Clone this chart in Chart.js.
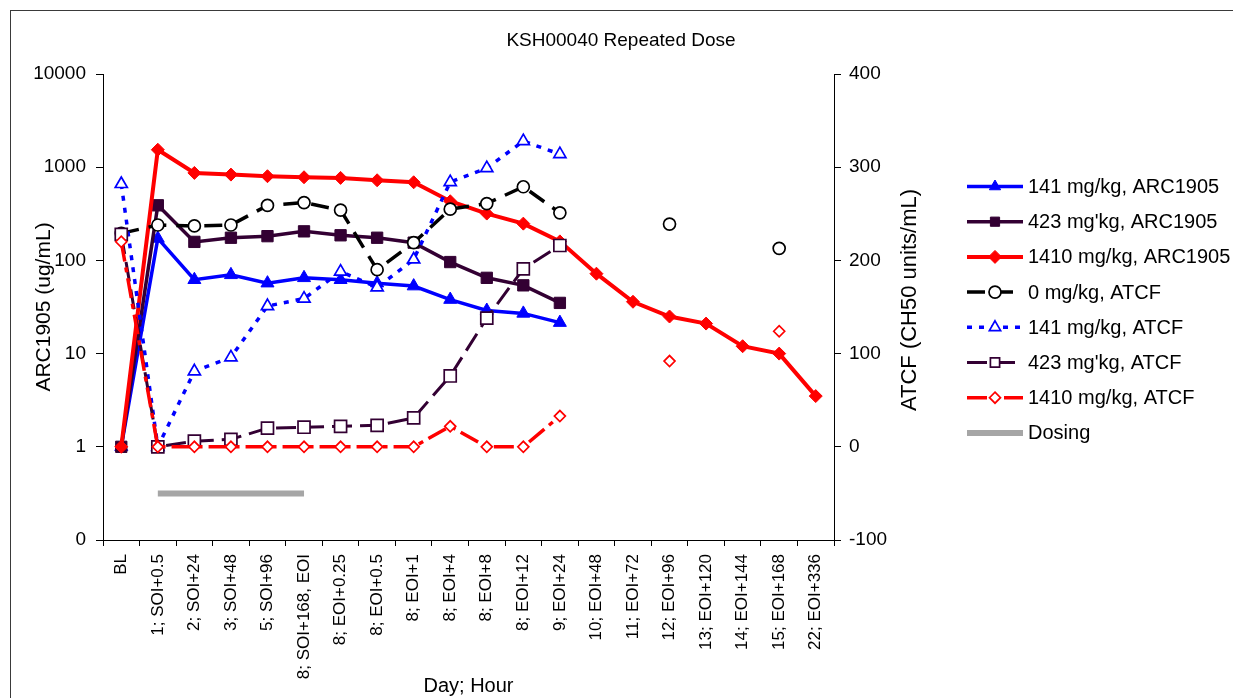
<!DOCTYPE html>
<html><head><meta charset="utf-8">
<script src="https://cdn.jsdelivr.net/npm/chart.js@4.4.1/dist/chart.umd.min.js"></script>
<style>
html,body{margin:0;padding:0;background:#fff;overflow:hidden;}
#wrap{position:relative;width:1233px;height:698px;}
#frame{position:absolute;left:10px;top:10px;width:1300px;height:800px;border-left:1.5px solid #3a3a3a;border-top:1.5px solid #3a3a3a;}
canvas{position:absolute;left:0;top:0;}
</style></head><body>
<div id="wrap"><div id="frame"></div><canvas id="c" width="1233" height="698"></canvas></div>
<script>
const categories = ['BL','1; SOI+0.5','2; SOI+24','3; SOI+48','5; SOI+96','8; SOI+168, EOI','8; EOI+0.25','8; EOI+0.5','8; EOI+1','8; EOI+4','8; EOI+8','8; EOI+12','9; EOI+24','10; EOI+48','11; EOI+72','12; EOI+96','13; EOI+120','14; EOI+144','15; EOI+168','22; EOI+336'];
const arc141  = [1, 172, 62, 70, 57, 65, 62, 57, 53, 38, 29, 27, 21.5, null, null, null, null, null, null, null];
const arc423  = [1, 390, 158, 175, 182, 205, 186, 175, 155, 96, 65, 54, 35, null, null, null, null, null, null, null];
const arc1410 = [1, 1540, 868, 833, 800, 780, 768, 724, 689, 431, 318, 248, 160, 72, 36, 25, 21, 12, 10, 3.5];
const atcf0    = [229, 238, 237, 238, 259, 262, 254, 190, 219, 255, 261, 279, 251, null, null, 239, null, null, 213, null];
const atcf141  = [282, 0, 81, 96, 151, 159, 188, 171, 201, 284, 299, 328, 314, null, null, null, null, null, null, null];
const atcf423  = [228, 0, 6, 8, 20, 21, 22, 23, 31, 76, 138, 191, 216, null, null, null, null, null, null, null];
const atcf1410 = [220, 0, 0, 0, 0, 0, 0, 0, 0, 22, 0, 0, 33, null, null, 92, null, null, 124, null];
const dosing   = [null, -50, -50, -50, -50, -50, null, null, null, null, null, null, null, null, null, null, null, null, null, null];
const leftTicks = [0.1, 1, 10, 100, 1000, 10000];

const FAM = "'Liberation Sans', Arial, sans-serif";
const PURPLE = '#330033';

function ds(label, data, axis, color, style, r, filled, width, dash, idx) {
  return {
    label, data, yAxisID: axis, borderColor: color, borderWidth: width, borderDash: dash,
    tension: 0, spanGaps: false, fill: false,
    pointStyle: style || false, pointRadius: style ? r : 0,
    pointBackgroundColor: filled ? color : '#ffffff', pointBorderColor: color,
    pointBorderWidth: filled ? 1 : 1.7, order: 20 - idx,
    _marker: {style, r, filled}
  };
}

const datasets = [
  ds('141 mg/kg, ARC1905', arc141, 'y', '#0000FF', 'triangle', 7.5, true, 3.5, [], 0),
  ds("423 mg'kg, ARC1905", arc423, 'y', PURPLE, 'rect', 8, true, 3.5, [], 1),
  ds('1410 mg/kg, ARC1905', arc1410, 'y', '#FF0000', 'rectRot', 6.5, true, 4, [], 2),
  ds('0 mg/kg, ATCF', atcf0, 'y2', '#000000', 'circle', 6, false, 3.5, [18, 10], 3),
  ds('141 mg/kg, ATCF', atcf141, 'y2', '#0000FF', 'triangle', 7, false, 3.5, [5, 7], 4),
  ds("423 mg'kg, ATCF", atcf423, 'y2', PURPLE, 'rect', 8.5, false, 3, [20, 8], 5),
  ds('1410 mg/kg, ATCF', atcf1410, 'y2', '#FF0000', 'rectRot', 5.5, false, 3.5, [20, 6, 5, 6], 6),
  ds('Dosing', dosing, 'y2', '#A6A6A6', null, 0, true, 6, [], 7)
];

function drawMarker(ctx, style, r, x, y, fill, stroke, lw) {
  ctx.save(); ctx.setLineDash([]); ctx.beginPath();
  if (style === 'circle') { ctx.arc(x, y, r, 0, Math.PI * 2); }
  else if (style === 'triangle') {
    ctx.moveTo(x, y - r);
    ctx.lineTo(x + r * Math.sin(2 * Math.PI / 3), y - r * Math.cos(2 * Math.PI / 3));
    ctx.lineTo(x + r * Math.sin(4 * Math.PI / 3), y - r * Math.cos(4 * Math.PI / 3));
    ctx.closePath();
  } else if (style === 'rect') { const s = r * Math.SQRT1_2; ctx.rect(x - s, y - s, 2 * s, 2 * s); }
  else if (style === 'rectRot') { ctx.moveTo(x, y - r); ctx.lineTo(x + r, y); ctx.lineTo(x, y + r); ctx.lineTo(x - r, y); ctx.closePath(); }
  ctx.fillStyle = fill; ctx.fill(); ctx.lineWidth = lw; ctx.strokeStyle = stroke; ctx.stroke(); ctx.restore();
}

const extras = {
  id: 'extras',
  afterDraw(chart) {
    const ctx = chart.ctx;
    ctx.save();
    // Title
    ctx.fillStyle = '#000'; ctx.font = '19px ' + FAM; ctx.textAlign = 'center'; ctx.textBaseline = 'middle';
    ctx.fillText('KSH00040 Repeated Dose', 621, 41);
    // Right axis title
    ctx.save(); ctx.translate(910, 300); ctx.rotate(-Math.PI / 2);
    ctx.font = '22px ' + FAM; ctx.fillText('ATCF (CH50 units/mL)', 0, 0); ctx.restore();
    // Legend
    const x0 = 967, x1 = 1023, xm = 995, tx = 1028;
    chart.data.datasets.forEach((d, i) => {
      const y = 186.5 + i * 35.2;
      ctx.save();
      ctx.strokeStyle = d.borderColor; ctx.lineWidth = d.borderWidth; ctx.setLineDash(d.borderDash || []);
      ctx.beginPath(); ctx.moveTo(x0, y); ctx.lineTo(x1, y); ctx.stroke();
      ctx.restore();
      const m = d._marker;
      if (m.style) drawMarker(ctx, m.style, Math.min(m.r, 6.5), xm, y, m.filled ? d.borderColor : '#fff', d.borderColor, m.filled ? 1 : 1.7);
      ctx.fillStyle = '#000'; ctx.font = '20px ' + FAM; ctx.textAlign = 'left'; ctx.textBaseline = 'middle';
      ctx.fillText(d.label, tx, y + 1);
    });
    ctx.restore();
  }
};

new Chart(document.getElementById('c'), {
  type: 'line',
  data: { labels: categories, datasets },
  options: {
    responsive: false, animation: false, devicePixelRatio: 1,
    layout: { padding: { top: 74, left: 0, right: 309, bottom: 0 } },
    plugins: { legend: { display: false }, tooltip: { enabled: false }, title: { display: false } },
    scales: {
      x: {
        type: 'category', offset: true,
        grid: { display: true, drawOnChartArea: false, offset: true, tickLength: 6, color: '#000', tickWidth: 1 },
        border: { display: true, color: '#000', width: 1 },
        ticks: { minRotation: 90, maxRotation: 90, autoSkip: false, padding: 8, color: '#000', font: { family: FAM, size: 17 } },
        title: { display: true, text: 'Day; Hour', color: '#000', font: { family: FAM, size: 20 }, padding: { top: 0, bottom: 0 } },
        afterFit(s) { s.height = 158; }
      },
      y: {
        type: 'logarithmic', position: 'left', min: 0.1, max: 10000,
        afterBuildTicks(s) { s.ticks = leftTicks.map(v => ({ value: v })); },
        ticks: { callback: v => (v < 1 ? '0' : String(v)), color: '#000', padding: 10, font: { family: FAM, size: 19 } },
        grid: { drawOnChartArea: false, tickLength: 7, color: '#000' },
        border: { display: true, color: '#000', width: 1 },
        title: { display: true, text: 'ARC1905 (ug/mL)', color: '#000', font: { family: FAM, size: 21 }, padding: { top: 32, bottom: 0 } },
        afterFit(s) { s.width = 103; }
      },
      y2: {
        type: 'linear', position: 'right', min: -100, max: 400,
        ticks: { stepSize: 100, color: '#000', padding: 8, font: { family: FAM, size: 19 } },
        grid: { drawOnChartArea: false, tickLength: 7, color: '#000' },
        border: { display: true, color: '#000', width: 1 },
        afterFit(s) { s.width = 90; }
      }
    }
  },
  plugins: [extras]
});
</script>
</body></html>
